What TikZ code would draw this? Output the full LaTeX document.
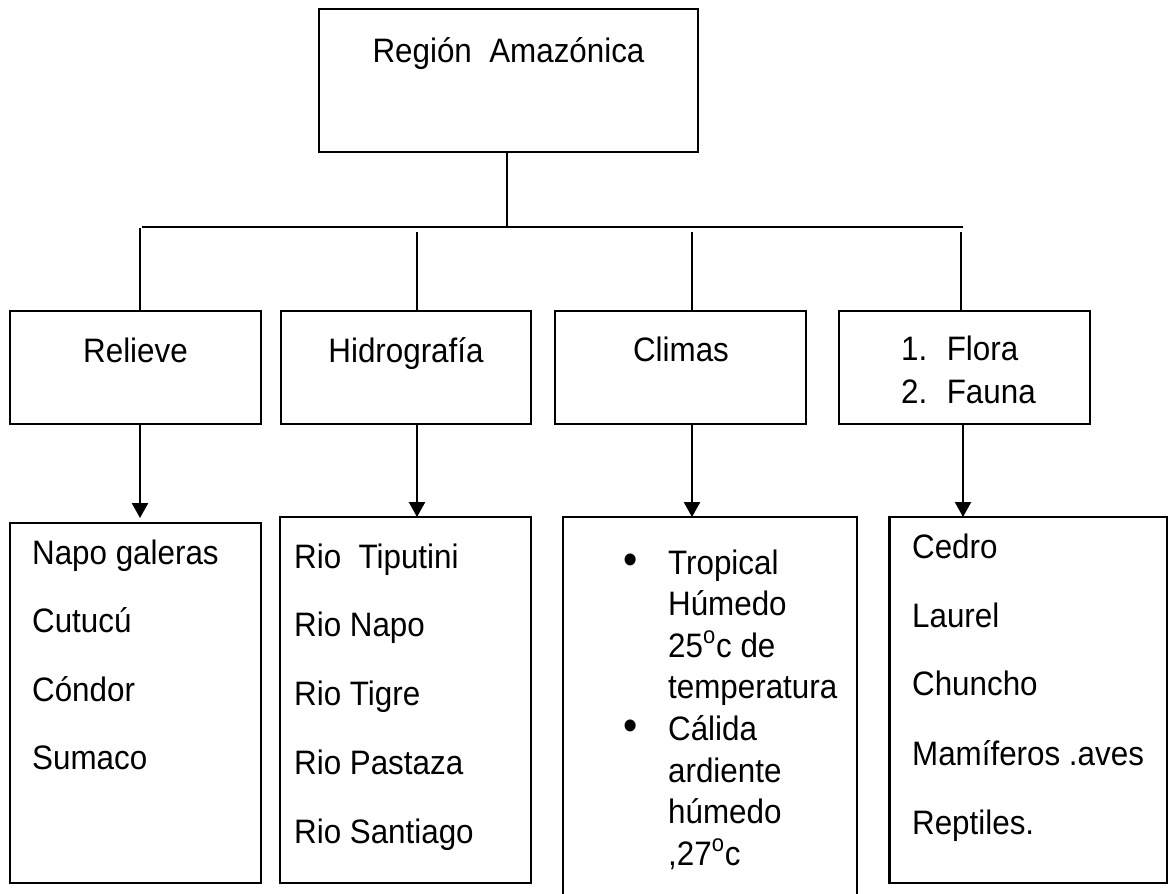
\documentclass[tikz,border=0pt]{standalone}
\usepackage{fontspec}
\setmainfont{Liberation Sans}[FakeStretch=0.925]
\usetikzlibrary{arrows.meta}
\tikzset {>={Triangle[width=0.32cm,length=0.30cm]}}
\newcommand\boxfont{\fontsize{19.3pt}{23pt}\selectfont}
\tikzset{box/.style={draw,line width=1.3pt,inner sep=0pt,outer sep=0pt},
  txt/.style={inner sep=0pt,font=\boxfont}}

\begin{document}
\begin{tikzpicture}[x=0.02cm,y=-0.02cm,line width=1.3pt]
\useasboundingbox (0,0) rectangle (1176,893);
\clip (0,0) rectangle (1176,893);

% Top box
\node[box,minimum width=7.58cm,minimum height=2.86cm] (top) at (508.5,80.5) {};
\node[txt,anchor=base] (toptxt) at (508.5,62) {Región\ \ Amazónica};

% Second row
\node[box,minimum width=5.02cm,minimum height=2.26cm] (rel) at (135.5,367.5) {};
\node[box,minimum width=5.00cm,minimum height=2.26cm] (hid) at (406,367.5) {};
\node[box,minimum width=5.02cm,minimum height=2.26cm] (cli) at (680.5,367.5) {};
\node[box,minimum width=5.02cm,minimum height=2.26cm] (flo) at (964.5,367.5) {};
\node[txt,anchor=base] (reltxt) at (135.5,362) {Relieve};
\node[txt,anchor=base] (hidtxt) at (406,362) {Hidrografía};
\node[txt,anchor=base] (clitxt) at (681,361) {Climas};
\node[txt,anchor=base west] (flotxt) at (900,360) {1.\hspace{0.39cm}Flora};
\node[txt,anchor=base west] (fautxt) at (900,403) {2.\hspace{0.39cm}Fauna};

% Bottom row
\node[box,minimum width=5.02cm,minimum height=7.20cm] (b1) at (135.5,703) {};
\node[box,minimum width=5.02cm,minimum height=7.32cm] (b2) at (405.5,700) {};
\node[box,minimum width=5.88cm,minimum height=8.06cm] (b3) at (710,718.5) {};
\node[box,minimum width=5.55cm,minimum height=7.32cm] (b4) at (1028.25,700) {};

% Relieve list
\node[txt,anchor=base west] (r1) at (31,564) {Napo galeras};
\node[txt,anchor=base west] (r2) at (31,632.5) {Cutucú};
\node[txt,anchor=base west] (r3) at (31,701) {Cóndor};
\node[txt,anchor=base west] (r4) at (31,769.5) {Sumaco};

% Hidrografia list
\node[txt,anchor=base west] (h1) at (293,568) {Rio\ \ Tiputini};
\node[txt,anchor=base west] (h2) at (293,636.75) {Rio Napo};
\node[txt,anchor=base west] (h3) at (293,705.5) {Rio Tigre};
\node[txt,anchor=base west] (h4) at (293,774.25) {Rio Pastaza};
\node[txt,anchor=base west] (h5) at (293,843) {Rio Santiago};

% Climas list
\node[txt,anchor=base,font=\fontsize{25pt}{25pt}\selectfont] (dot1) at (631,574) {•};
\node[txt,anchor=base,font=\fontsize{25pt}{25pt}\selectfont] (dot2) at (631,740.4) {•};
\node[txt,anchor=base west] (c1) at (667,574) {Tropical};
\node[txt,anchor=base west] (c2) at (667,615.6) {Húmedo};
\node[txt,anchor=base west] (c3) at (667,657.2) {25\textsuperscript{o}c de};
\node[txt,anchor=base west] (c4) at (667,698.8) {temperatura};
\node[txt,anchor=base west] (c5) at (667,740.4) {Cálida};
\node[txt,anchor=base west] (c6) at (667,782) {ardiente};
\node[txt,anchor=base west] (c7) at (667,823.6) {húmedo};
\node[txt,anchor=base west] (c8) at (667,865.2) {,27\textsuperscript{o}c};

% Flora y fauna list
\node[txt,anchor=base west] (f1) at (911,558) {Cedro};
\node[txt,anchor=base west] (f2) at (911,627) {Laurel};
\node[txt,anchor=base west] (f3) at (911,695.5) {Chuncho};
\node[txt,anchor=base west] (f4) at (911,765) {Mamíferos .aves};
\node[txt,anchor=base west] (f5) at (911,834) {Reptiles.};

% Branch lines
\coordinate (hl) at (142,227);
\coordinate (hr) at (963,227);
\coordinate (k1) at (140,228);
\coordinate (k2) at (417,232);
\coordinate (k3) at (692,232);
\coordinate (k4) at (961,232);
\draw (top.south -| 507,0) -- (507,227);
\draw (hl) -- (hr);
\draw (k1) -- (k1 |- rel.north);
\draw (k2) -- (k2 |- hid.north);
\draw (k3) -- (k3 |- cli.north);
\draw (k4) -- (k4 |- flo.north);

% Arrows
\draw [->,shorten >=0.10cm] (k1 |- rel.south) -- (k1 |- b1.north);
\draw [->] (k2 |- hid.south) -- (k2 |- b2.north);
\draw [->] (k3 |- cli.south) -- (k3 |- b3.north);
\draw [->] (963,424) -- (963,517);
\end{tikzpicture}
\end{document}
